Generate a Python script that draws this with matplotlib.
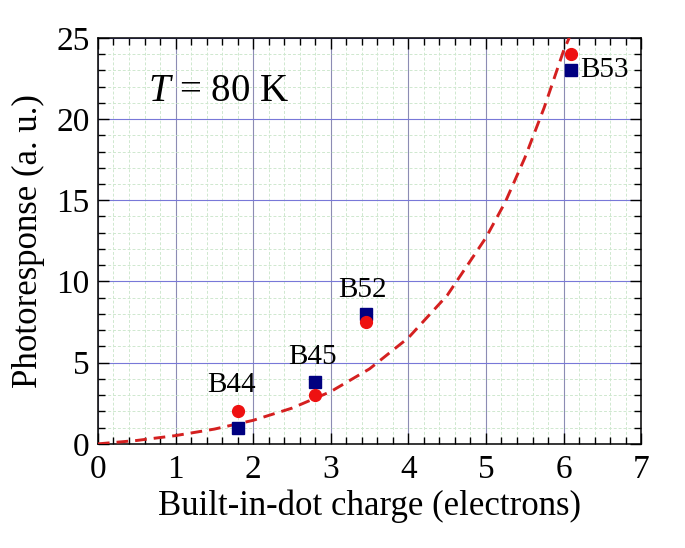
import numpy as np
import matplotlib.pyplot as plt
from matplotlib.ticker import MultipleLocator

plt.rcParams['font.family'] = ['Liberation Serif', 'DejaVu Serif']
plt.rcParams['mathtext.fontset'] = 'custom'
plt.rcParams['mathtext.it'] = 'Liberation Serif:italic'
plt.rcParams['mathtext.rm'] = 'Liberation Serif'

# samples
samples = ['B44', 'B45', 'B52', 'B53']
charge = [1.8, 2.8, 3.45, 6.1]
resp_square = [1.0, 3.8, 8.0, 23.0]
resp_circle = [2.0, 3.0, 7.5, 24.0]

# dashed guide curve
curve_x = [0, 0.5, 1, 1.5, 2, 2.5, 3, 3.5, 4, 4.5, 5, 5.25, 5.5, 5.75, 6, 6.1]
curve_y = [0, 0.21, 0.51, 0.91, 1.45, 2.2, 3.22, 4.62, 6.53, 9.14, 12.7,
           14.9, 17.6, 20.7, 24.2, 25.3]

fig = plt.figure(figsize=(6.85, 5.48), dpi=100)
ax = fig.add_axes([0.143, 0.19, 0.793, 0.741])

ax.plot(curve_x, curve_y, '--', color='#d42020', lw=2.1, dashes=(4, 2.4), zorder=3)
ax.plot(charge, resp_square, 's', color='#000080', ms=8, zorder=4)
ax.plot(charge, resp_circle, 'o', color='#ee1111', ms=8.5, zorder=5)

# labels next to points
lab_pos = [(1.72, 2.8, 'center'), (2.77, 4.55, 'center'), (3.41, 8.7, 'center'), (6.22, 23.0, 'left')]
for name, (lx, ly, ha) in zip(samples, lab_pos):
    va = 'center' if ha == 'left' else 'bottom'
    ax.text(lx, ly, name, fontsize=21, ha=ha, va=va, zorder=6)

ax.text(0.65, 21.7, r'$T$ = 80 K', fontsize=28, ha='left', va='center')

ax.set_xlim(0, 7)
ax.set_ylim(0, 25)
ax.xaxis.set_major_locator(MultipleLocator(1))
ax.xaxis.set_minor_locator(MultipleLocator(0.2))
ax.yaxis.set_major_locator(MultipleLocator(5))
ax.yaxis.set_minor_locator(MultipleLocator(1))

ax.grid(which='minor', color='#cfe8cf', ls='--', lw=0.7, dashes=(3, 2))
ax.grid(which='major', axis='y', color='#7878d8', lw=0.8)
ax.grid(which='major', axis='x', color='#8c8cb4', lw=0.8)
ax.set_axisbelow(True)

ax.tick_params(which='both', direction='in', top=True, right=True, labelsize=24)
ax.tick_params(which='major', length=8, width=1)
ax.tick_params(which='minor', length=5, width=1)
ax.tick_params(axis='x', pad=8)
ax.tick_params(axis='y', pad=6)
for s in ax.spines.values():
    s.set_linewidth(1.1)

ax.set_xlabel('Built-in-dot charge (electrons)', fontsize=25, labelpad=3)
ax.set_ylabel('Photoresponse (a. u.)', fontsize=25, labelpad=8)

fig.savefig('out.png', dpi=100)
